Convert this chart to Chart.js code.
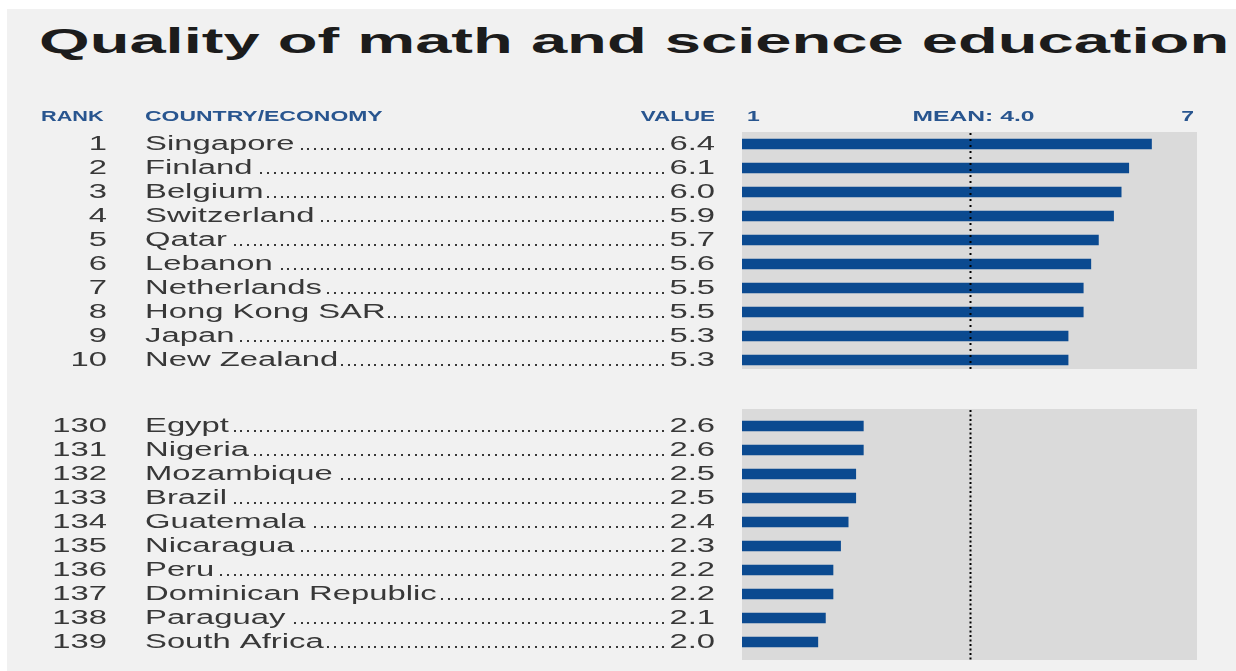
<!DOCTYPE html>
<html>
<head>
<meta charset="utf-8">
<script src="https://cdn.jsdelivr.net/npm/chart.js"></script>
<style>
  body { margin: 0; background: #ffffff; width: 1236px; height: 671px; overflow: hidden; }
  #page { position: absolute; left: 7px; top: 9px; width: 1229px; height: 662px; background: #f1f1f1; }
  #title {
    position: absolute; left: 39px; top: 23px;
    font: bold 35px "Liberation Sans", Arial, sans-serif; line-height: 35px;
    color: #1c1c1c; white-space: nowrap;
    transform-origin: 0 0; transform: scaleX(1.86);
  }
  .wrap { position: absolute; left: 0; width: 1236px; }
  #topWrap { top: 95px; height: 280px; }
  #bottomWrap { top: 395px; height: 276px; }
</style>
</head>
<body>
<div id="page"></div>
<div id="title">Quality of math and science education</div>
<div class="wrap" id="topWrap"><canvas id="topChart"></canvas></div>
<div class="wrap" id="bottomWrap"><canvas id="bottomChart"></canvas></div>

<script>
// scores, 1-7 scale
const topRanks = [1, 2, 3, 4, 5, 6, 7, 8, 9, 10];
const topCountries = ['Singapore', 'Finland', 'Belgium', 'Switzerland', 'Qatar', 'Lebanon',
  'Netherlands', 'Hong Kong SAR', 'Japan', 'New Zealand'];
const topValues = [6.4, 6.1, 6.0, 5.9, 5.7, 5.6, 5.5, 5.5, 5.3, 5.3];

const bottomRanks = [130, 131, 132, 133, 134, 135, 136, 137, 138, 139];
const bottomCountries = ['Egypt', 'Nigeria', 'Mozambique', 'Brazil', 'Guatemala', 'Nicaragua',
  'Peru', 'Dominican Republic', 'Paraguay', 'South Africa'];
const bottomValues = [2.6, 2.6, 2.5, 2.5, 2.4, 2.3, 2.2, 2.2, 2.1, 2.0];

const scaleMin = 1;
const scaleMax = 7;
const meanValue = 4.0;

const BAR_BLUE = '#0b4a90';
const PANEL_GREY = '#dadada';
const HEAD_BLUE = '#28558f';
const TEXT_GREY = '#383838';
const FONT = '"Liberation Sans", Arial, sans-serif';
const SX = 1.64; // the type is set wide

function wideText(ctx, str, x, y, align, sx = SX) {
  ctx.save();
  ctx.translate(x, y);
  ctx.scale(sx, 1);
  ctx.textAlign = align;
  ctx.fillText(str, 0, 0);
  ctx.restore();
  return ctx.measureText(str).width * sx;
}

// grey panel + dotted mean line behind the bars
const panelPlugin = {
  id: 'panel',
  beforeDatasetsDraw(chart, args, opts) {
    const {ctx, chartArea} = chart;
    const top = chartArea.top - opts.padTop;
    const bottom = chartArea.bottom + opts.padBottom;
    ctx.save();
    ctx.fillStyle = PANEL_GREY;
    ctx.fillRect(chartArea.left, top, chartArea.right - chartArea.left, bottom - top);
    ctx.restore();
  },
  afterDatasetsDraw(chart, args, opts) {
    const {ctx, chartArea} = chart;
    const top = chartArea.top - opts.padTop;
    const bottom = chartArea.bottom + opts.padBottom;
    const mx = Math.round(chart.scales.x.getPixelForValue(meanValue)) + 0.5;
    ctx.save();
    ctx.strokeStyle = '#000';
    ctx.lineWidth = 2;
    ctx.setLineDash(opts.dash);
    ctx.beginPath();
    ctx.moveTo(mx, top + 1);
    ctx.lineTo(mx, bottom);
    ctx.stroke();
    ctx.restore();
  }
};

// rank / country / leader dots / value columns, lined up with the bar rows
const tablePlugin = {
  id: 'table',
  afterDraw(chart, args, opts) {
    const {ctx} = chart;
    const yScale = chart.scales.y;
    const values = chart.data.datasets[0].data;
    ctx.save();
    ctx.fillStyle = TEXT_GREY;
    ctx.font = '20px ' + FONT;
    ctx.textBaseline = 'alphabetic';
    chart.data.labels.forEach((name, i) => {
      const y = yScale.getPixelForValue(i) + 6;
      wideText(ctx, String(opts.ranks[i]), 107, y, 'right');
      const nameEnd = 145 + wideText(ctx, name, 145, y, 'left');
      const valStr = values[i].toFixed(1);
      const valStart = 715 - ctx.measureText(valStr).width * SX;
      wideText(ctx, valStr, 715, y, 'right');
      for (let dx = valStart - 6; dx > nameEnd + 3; dx -= 6.7) {
        ctx.fillRect(Math.round(dx) - 1, y - 2, 2, 2);
      }
    });

    if (opts.header) {
      const xs = chart.scales.x;
      const hy = 121 - 95;
      ctx.fillStyle = HEAD_BLUE;
      ctx.font = 'bold 14px ' + FONT;
      wideText(ctx, 'RANK', 41, hy, 'left', 1.55);
      wideText(ctx, 'COUNTRY/ECONOMY', 145, hy, 'left');
      wideText(ctx, 'VALUE', 715, hy, 'right', 1.6);
      wideText(ctx, String(scaleMin), xs.getPixelForValue(scaleMin) + 5, hy, 'left');
      wideText(ctx, 'MEAN: ' + meanValue.toFixed(1), xs.getPixelForValue(meanValue) + 4, hy, 'center', 1.76);
      wideText(ctx, String(scaleMax), xs.getPixelForValue(scaleMax) - 3, hy, 'right');
    }
    ctx.restore();
  }
};

function makeChart(id, countries, values, ranks, pad, panel, header) {
  return new Chart(document.getElementById(id), {
    type: 'bar',
    data: {
      labels: countries,
      datasets: [{
        data: values,
        backgroundColor: BAR_BLUE,
        barThickness: 10,
        borderWidth: 0
      }]
    },
    options: {
      indexAxis: 'y',
      responsive: true,
      maintainAspectRatio: false,
      animation: false,
      layout: { padding: pad },
      scales: {
        x: { type: 'linear', min: scaleMin, max: scaleMax, display: false },
        y: { type: 'category', display: false, offset: true }
      },
      plugins: {
        legend: { display: false },
        tooltip: { enabled: false },
        panel: panel,
        table: { ranks: ranks, header: header }
      }
    },
    plugins: [panelPlugin, tablePlugin]
  });
}

// top ten
makeChart('topChart', topCountries, topValues, topRanks,
  { left: 742, right: 39, top: 37, bottom: 3 },
  { padTop: 0, padBottom: -3, dash: [2, 4] }, true);

// bottom ten
makeChart('bottomChart', bottomCountries, bottomValues, bottomRanks,
  { left: 742, right: 39, top: 19, bottom: 17 },
  { padTop: 5, padBottom: 6, dash: [2, 2.5] }, false);
</script>
</body>
</html>
